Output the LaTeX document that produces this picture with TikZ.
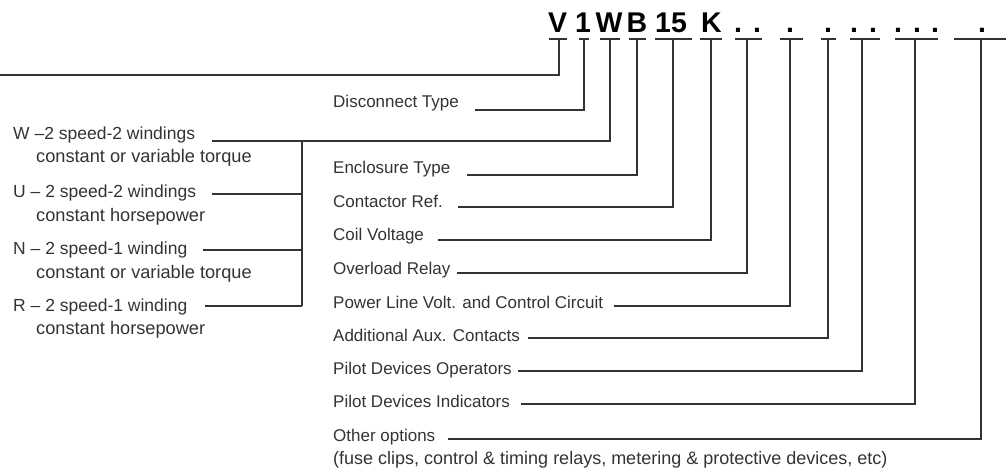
\documentclass[tikz,border=0pt]{standalone}
\usepackage{fontspec}
\setmainfont{Liberation Sans}
\definecolor{ink}{HTML}{333333}
\tikzset{
  lbl/.style={anchor=base west, inner sep=0pt, font=\fontsize{17}{19}\selectfont, text=ink},
  lbll/.style={anchor=base west, inner sep=0pt, font=\fontsize{17.5}{19}\selectfont, text=ink},
  lbls/.style={anchor=base west, inner sep=0pt, font=\fontsize{18.2}{20}\selectfont, text=ink},
  code/.style={anchor=base, inner sep=0pt, font=\fontsize{28.5}{30}\selectfont\bfseries, text=black},
  ln/.style={draw=ink, line width=1.2pt},
}
\begin{document}
\begin{tikzpicture}[x=1pt,y=-1pt]
\useasboundingbox (0,0) rectangle (1006,471);
% code characters
\node[code] (cV) at (557.5,32) {V};
\node[code] (c1) at (583,32) {1};
\node[code] (cW) at (609,32) {W};
\node[code] (cB) at (637,32) {B};
\node[code] (c15) at (671,32) {15};
\node[code] (cK) at (711.5,32) {K};
\foreach \n/\x in {da/738,db/757,dc/790,dd/828,de/854,df/873,dg/898,dh/917,di/935,dj/982}
  \node[code] (\n) at (\x,32) {.};
% underlines
\foreach \a/\b in {549/567,579/589,600/620,629/646,655/692,700/722,735/762,780/803,821/836,850/880,895/938,954/1006}
  \draw[ln] (\a,39) -- (\b,39);
% attach points on underlines
\foreach \n/\x in {u1/559,u2/584,u3/610,u4/637,u5/673,u6/711,u7/747,u8/790,u9/828,u10/862,u11/915,u12/981}
  \coordinate (\n) at (\x,39);
% right column labels
\node[lbl] (dis) at (333,107) {Disconnect Type};
\node[lbl] (enc) at (333,173) {Enclosure Type};
\node[lbl] (con) at (333,207) {Contactor Ref.};
\node[lbl] (coil) at (333,240) {Coil Voltage};
\node[lbl] (ovl) at (333,274) {Overload Relay};
\node[lbl] (pow) at (333,308) {Power Line Volt. and Control Circuit};
\node[lbl] (add) at (333,341) {Additional Aux. Contacts};
\node[lbl] (opr) at (333,374) {Pilot Devices Operators};
\node[lbl] (ind) at (333,407) {Pilot Devices Indicators};
\node[lbl] (oth) at (333,441) {Other options};
\node[lbl, font=\fontsize{18}{20}\selectfont] (fuse) at (333,464) {(fuse clips, control \& timing relays, metering \& protective devices, etc)};
% left column labels
\node[lbll] (wl) at (13,139) {W –2 speed-2 windings};
\node[lbls] (wl2) at (36,162) {constant or variable torque};
\node[lbll] (ul) at (13,197) {U – 2 speed-2 windings};
\node[lbls] (ul2) at (36,221) {constant horsepower};
\node[lbll] (nl) at (13,254) {N – 2 speed-1 winding};
\node[lbls] (nl2) at (36,278) {constant or variable torque};
\node[lbll] (rl) at (13,311) {R – 2 speed-1 winding};
\node[lbls] (rl2) at (36,334) {constant horsepower};
% line start points
\coordinate (sV) at (0,75);
\coordinate (sDis) at (475,110);
\coordinate (sW) at (212,141);
\coordinate (sEnc) at (467,175);
\coordinate (sCon) at (458,207);
\coordinate (sCoil) at (438,240);
\coordinate (sOvl) at (457,273);
\coordinate (sPow) at (614,306);
\coordinate (sAdd) at (528,338);
\coordinate (sOpr) at (518,371);
\coordinate (sInd) at (521,404);
\coordinate (sOth) at (448,439);
\coordinate (sU) at (212,194);
\coordinate (sN) at (203,250);
\coordinate (sR) at (205,306);
\coordinate (bTop) at (302,141);
\coordinate (bBot) at (302,306);
% connectors
\draw[ln] (sV) -| (u1);
\draw[ln] (sDis) -| (u2);
\draw[ln] (sW) -| (u3);
\draw[ln] (sEnc) -| (u4);
\draw[ln] (sCon) -| (u5);
\draw[ln] (sCoil) -| (u6);
\draw[ln] (sOvl) -| (u7);
\draw[ln] (sPow) -| (u8);
\draw[ln] (sAdd) -| (u9);
\draw[ln] (sOpr) -| (u10);
\draw[ln] (sInd) -| (u11);
\draw[ln] (sOth) -| (u12);
\draw[ln] (sU) -- (sU -| bTop);
\draw[ln] (sN) -- (sN -| bTop);
\draw[ln] (sR) -- (bBot);
\draw[ln] (bTop) -- (bBot);
\end{tikzpicture}
\end{document}
